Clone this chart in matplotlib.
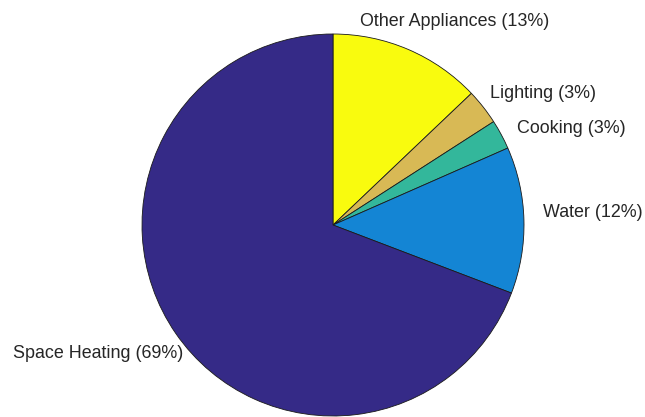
import numpy as np
import matplotlib
matplotlib.use("Agg")
import matplotlib.pyplot as plt

plt.rcParams['font.family'] = ['Liberation Sans', 'DejaVu Sans']

# household energy use, clockwise from 12 o'clock
categories = ["Other Appliances", "Lighting", "Cooking", "Water", "Space Heating"]
shares = [12.9, 3.0, 2.5, 12.4, 69.2]

colors = ["#f9fb0e", "#d8b955", "#33b79b", "#1485d4", "#352a87"]

# label anchors (pie radius = 1) and alignment
label_xy = [(0.141, 1.068), (0.822, 0.691), (0.963, 0.503), (1.099, 0.063), (-0.785, -0.675)]
label_ha = ["left", "left", "left", "left", "right"]

fig = plt.figure(figsize=(6.45, 4.17), dpi=100)
ax = fig.add_axes([0, 0, 1, 1])

wedges, _ = ax.pie(shares, colors=colors, startangle=90, counterclock=False,
                   wedgeprops=dict(edgecolor="#1a1a1a", linewidth=0.6))

total = float(np.sum(shares))
for name, v, (x, y), ha in zip(categories, shares, label_xy, label_ha):
    pct = int(np.floor(100.0 * v / total + 0.5))
    ax.text(x, y, "%s (%d%%)" % (name, pct), ha=ha, va="center",
            fontsize=12.9, color="#262626")

# centre at (333, 225) px, radius 191 px
ax.set_xlim(-333 / 191.0, (645 - 333) / 191.0)
ax.set_ylim(-(417 - 225) / 191.0, 225 / 191.0)
ax.set_aspect("auto")
ax.axis("off")

fig.savefig("out.png", dpi=100, facecolor="white")
